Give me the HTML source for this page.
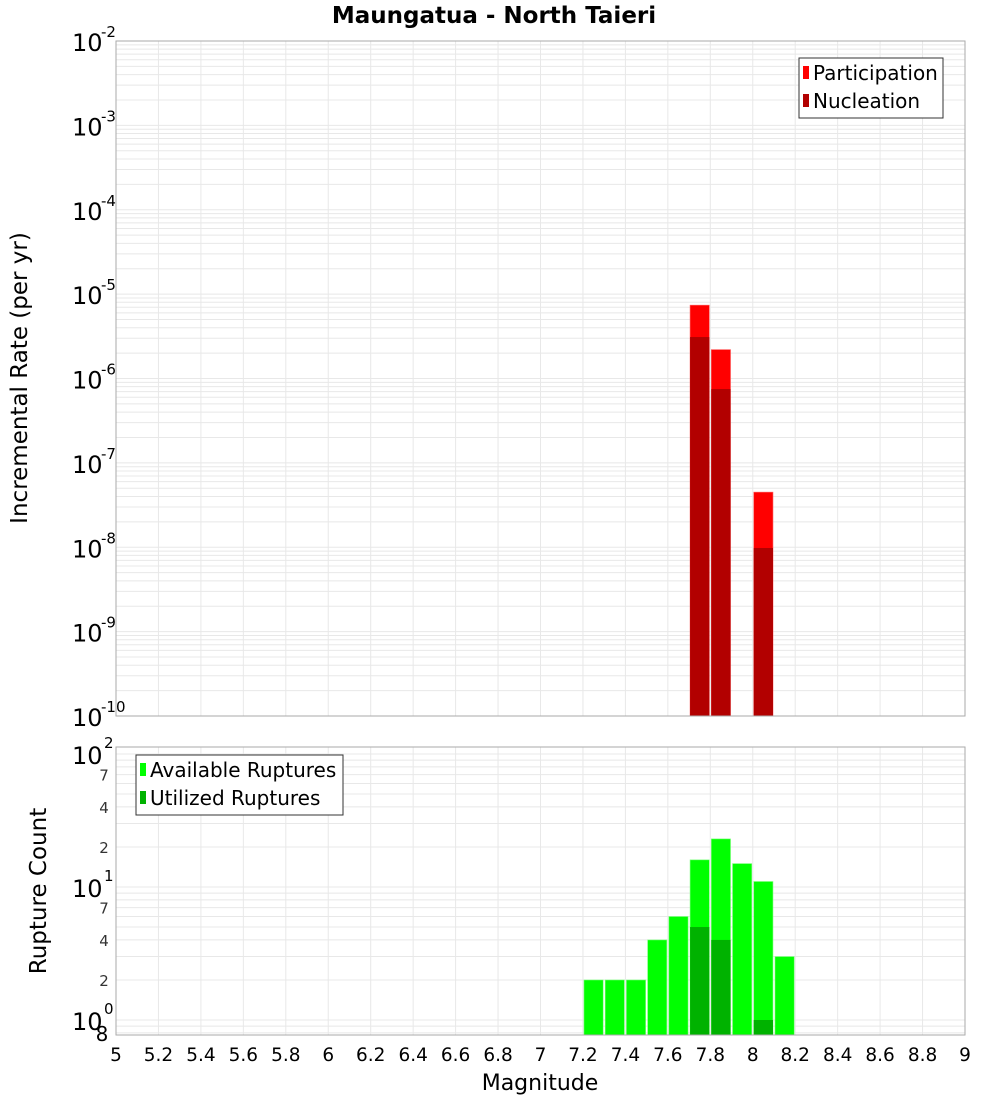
<!DOCTYPE html>
<html><head><meta charset="utf-8"><style>
body{margin:0;background:#fff;font-family:"Liberation Sans","DejaVu Sans",sans-serif}
svg text{font-family:"DejaVu Sans","Liberation Sans",sans-serif}
</style></head><body>
<svg id="c" width="1000" height="1100" xmlns="http://www.w3.org/2000/svg"></svg>
<script>
const binCenters=[7.75,7.85,8.05];
const participation=[7.4e-6,2.2e-6,4.5e-8];
const nucleation=[3.1e-6,7.5e-7,9.8e-9];
const countCenters=[7.25,7.35,7.45,7.55,7.65,7.75,7.85,7.95,8.05,8.15];
const available=[2,2,2,4,6,16,23,15,11,3];
const utilizedCenters=[7.75,7.85,8.05];
const utilized=[5,4,1];
const xTicks=[5,5.2,5.4,5.6,5.8,6,6.2,6.4,6.6,6.8,7,7.2,7.4,7.6,7.8,8,8.2,8.4,8.6,8.8,9];
const topExps=[-2,-3,-4,-5,-6,-7,-8,-9,-10];
const botMinor=[[7,70],[4,40],[2,20],[7,7],[4,4],[2,2]];

const svg=document.getElementById('c');const NS='http://www.w3.org/2000/svg';
function mk(t,a,p,txt){const e=document.createElementNS(NS,t);for(const k in a)e.setAttribute(k,a[k]);if(txt!==undefined)e.textContent=txt;(p||svg).appendChild(e);return e;}
const X0=116,X1=965;
const xs=v=>X0+(v-5)/4*(X1-X0);
const T0=41,T1=716;
const yt=v=>T0+(-2-Math.log10(v))*(T1-T0)/8;
const B0=747,B1=1035;
const yb=v=>1020-Math.log10(v)*133;

let e=mk('text',{x:494,y:23,'text-anchor':'middle','font-size':23,'font-weight':'bold'},svg,'Maungatua - North Taieri');


const gT=mk('g',{});
for(let d=-10;d<-2;d++)for(let m=1;m<10;m++){const y=yt(m*Math.pow(10,d));mk('line',{x1:X0,x2:X1,y1:y,y2:y,stroke:'#e8e8e8','stroke-width':1},gT);}
xTicks.forEach(t=>{const x=xs(t);mk('line',{x1:x,x2:x,y1:T0,y2:T1,stroke:'#e8e8e8'},gT);mk('line',{x1:x,x2:x,y1:B0,y2:B1,stroke:'#e8e8e8'},gT);});
for(let d=-1;d<3;d++)for(let m=1;m<10;m++){const y=yb(m*Math.pow(10,d));if(y>B0&&y<B1)mk('line',{x1:X0,x2:X1,y1:y,y2:y,stroke:'#e8e8e8'},gT);}

const w=xs(0.1)-xs(0);
const gp=mk('g',{});
binCenters.forEach((c,i)=>{const x=xs(c)-w/2+1;let r=mk('rect',{x:x,y:yt(participation[i]),width:w-2,height:T1-yt(participation[i]),fill:'#ff0000',stroke:'#ff6060','stroke-width':0.6},gp);
});
const gn=mk('g',{});
binCenters.forEach((c,i)=>{const x=xs(c)-w/2+1;let r=mk('rect',{x:x,y:yt(nucleation[i]),width:w-2,height:T1-yt(nucleation[i]),fill:'#b20000'},gn);
});

const ga=mk('g',{});
countCenters.forEach((c,i)=>{const x=xs(c)-w/2+1;let r=mk('rect',{x:x,y:yb(available[i]),width:w-2,height:B1-yb(available[i]),fill:'#00ff00',stroke:'#80ff80','stroke-width':0.6},ga);
});
const gu=mk('g',{});
utilizedCenters.forEach((c,i)=>{const x=xs(c)-w/2+1;let r=mk('rect',{x:x,y:yb(utilized[i]),width:w-2,height:B1-yb(utilized[i]),fill:'#00b200'},gu);
});

mk('rect',{x:X0,y:T0,width:X1-X0,height:T1-T0,fill:'none',stroke:'#aaa'});
mk('rect',{x:X0,y:B0,width:X1-X0,height:B1-B0,fill:'none',stroke:'#aaa'});

topExps.forEach(d=>{const y=yt(Math.pow(10,d));const g=mk('g',{});
mk('text',{x:72,y:y+10,'font-size':24},g,'10');mk('text',{x:101,y:y-4,'font-size':15},g,String(d));});
[[2,'2'],[1,'1'],[0,'0']].forEach(([d,s])=>{const y=yb(Math.pow(10,d));const g=mk('g',{});
mk('text',{x:72,y:y+10,'font-size':24},g,'10');mk('text',{x:104,y:y-6,'font-size':15},g,s);});
botMinor.forEach(([s,v])=>{let t=mk('text',{x:104,y:yb(v)+6,'font-size':15,'text-anchor':'middle',fill:'#333'},svg,String(s));});
e=mk('text',{x:102,y:1041,'font-size':20,'text-anchor':'middle'},svg,'8');

xTicks.forEach(t=>{let tx=mk('text',{x:xs(t),y:1061,'font-size':18.5,'text-anchor':'middle'},svg,String(t));});
e=mk('text',{x:540,y:1090,'font-size':22,'text-anchor':'middle'},svg,'Magnitude');
e=mk('text',{x:0,y:0,'font-size':23,'text-anchor':'middle',transform:'translate(27,378) rotate(-90)'},svg,'Incremental Rate (per yr)');
e=mk('text',{x:0,y:0,'font-size':23,'text-anchor':'middle',transform:'translate(46,891) rotate(-90)'},svg,'Rupture Count');

function legend(x,y,wd,items,name){const g=mk('g',{});
mk('rect',{x:x,y:y,width:wd,height:4+items.length*28,fill:'#fff',stroke:'#333'},g);
items.forEach(([c,l],i)=>{const yy=y+15+i*28;mk('rect',{x:x+4,y:yy-7,width:6,height:13,fill:c},g);mk('text',{x:x+14,y:yy+7,'font-size':20},g,l);});}
legend(799,58,144,[['#ff0000','Participation'],['#b20000','Nucleation']],'top-legend');
legend(136,755,207,[['#00ff00','Available Ruptures'],['#00b200','Utilized Ruptures']],'bottom-legend');
</script>
</body></html>
